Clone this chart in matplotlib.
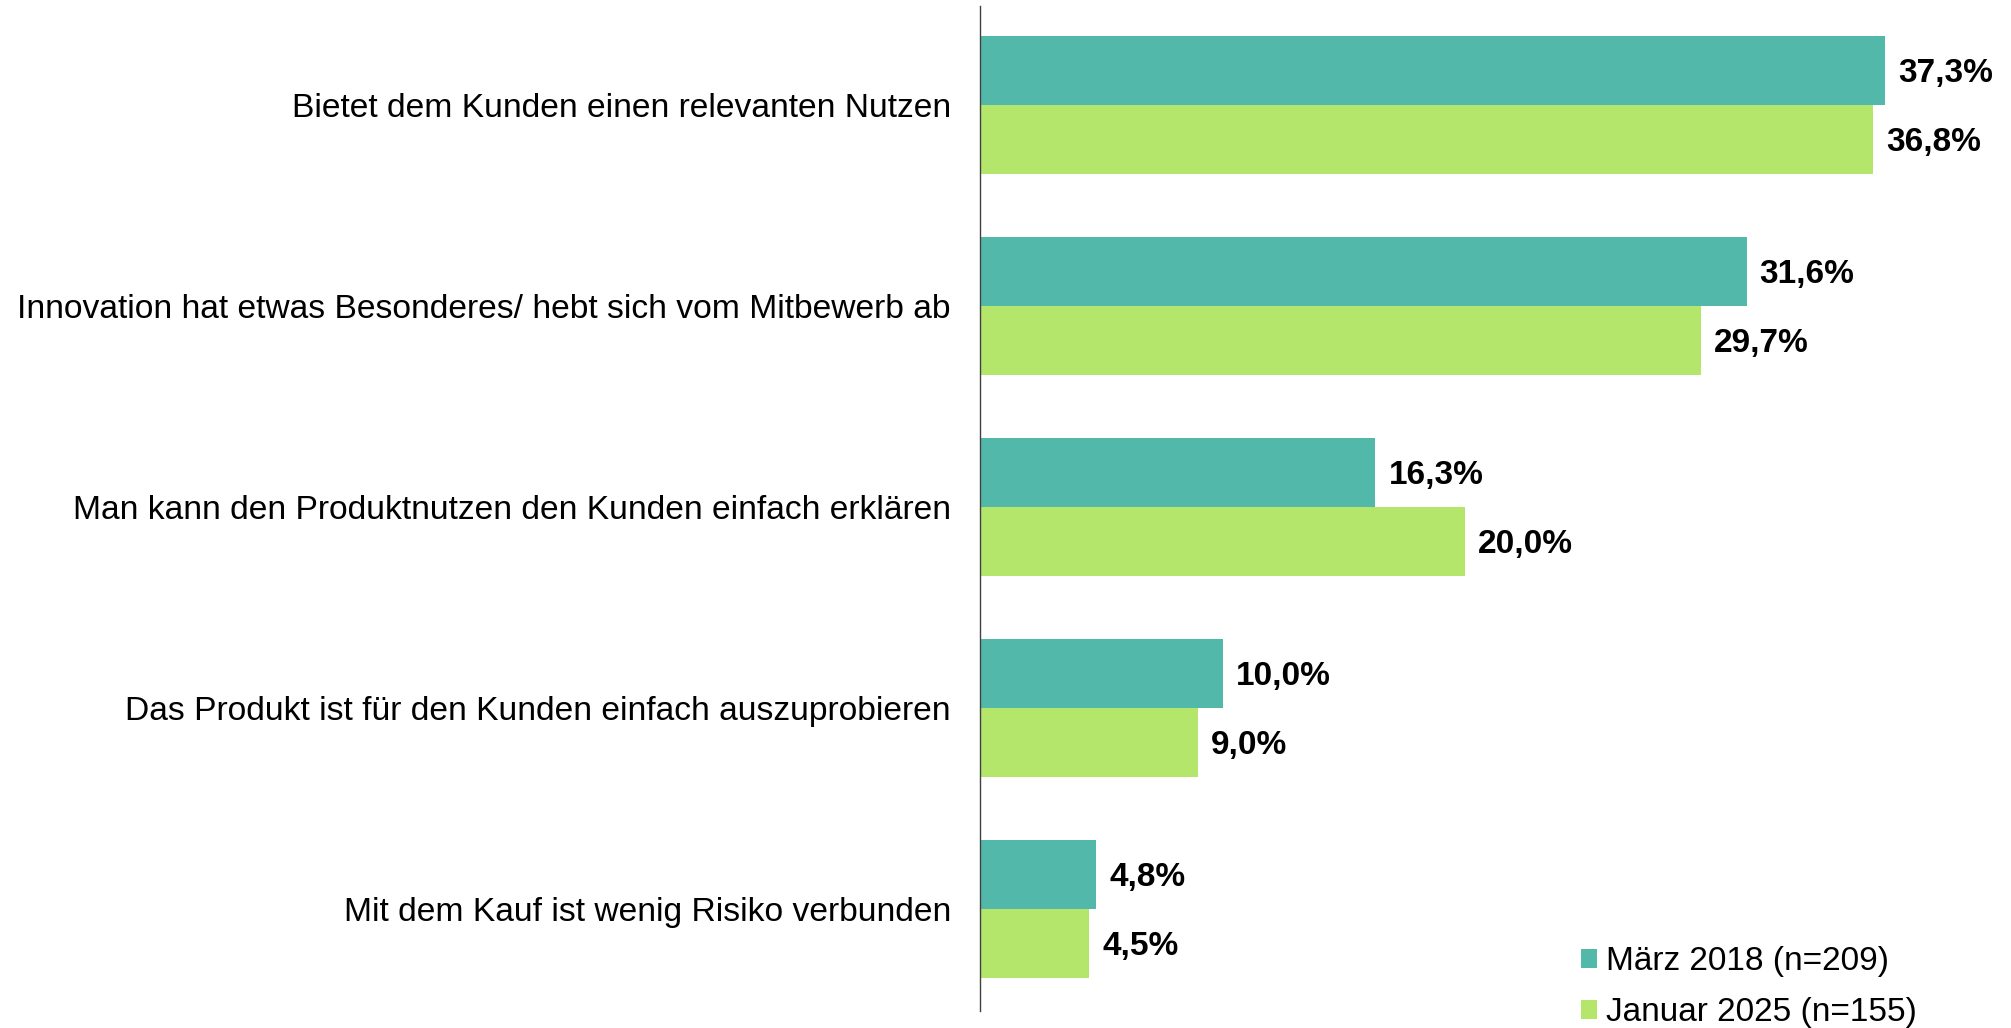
import numpy as np
import matplotlib
matplotlib.use('Agg')
from matplotlib import pyplot as plt

'''
Grouped horizontal bars, Maerz 2018 vs Januar 2025
'''

categories = [
    'Bietet dem Kunden einen relevanten Nutzen',
    'Innovation hat etwas Besonderes/ hebt sich vom Mitbewerb ab',
    'Man kann den Produktnutzen den Kunden einfach erklären',
    'Das Produkt ist für den Kunden einfach auszuprobieren',
    'Mit dem Kauf ist wenig Risiko verbunden',
]
maerz_2018 = [37.3, 31.6, 16.3, 10.0, 4.8]
januar_2025 = [36.8, 29.7, 20.0, 9.0, 4.5]
series_names = ['März 2018 (n=209)', 'Januar 2025 (n=155)']

col_teal = '#52b9aa'
col_green = '#b3e66a'

plt.rcParams['font.family'] = ['Liberation Sans', 'DejaVu Sans']

fig = plt.figure(figsize=(20.11, 10.28), dpi=100)
ax = fig.add_axes([0.4873, 0.0169, 0.5067, 0.9769])

y = np.arange(len(categories))
h = 0.345

b1 = ax.barh(y - h/2, maerz_2018, height=h, color=col_teal, label=series_names[0])
b2 = ax.barh(y + h/2, januar_2025, height=h, color=col_green, label=series_names[1])

def fmt(v):
    return ('%.1f%%' % v).replace('.', ',')

# value labels right of each bar
for bars, vals in ((b1, maerz_2018), (b2, januar_2025)):
    for b, v in zip(bars, vals):
        ax.annotate(fmt(v), (v, b.get_y() + b.get_height()/2),
                    xytext=(13, -3), textcoords='offset pixels',
                    ha='left', va='center', fontsize=24, fontweight='bold')

ax.set_xlim(0, 42)
ax.set_ylim(4.505, -0.49)
ax.set_yticks(y)
ax.set_yticklabels(categories, fontsize=24.2)
ax.tick_params(axis='y', length=0, pad=21)
ax.set_xticks([])
for s in ('top', 'right', 'bottom'):
    ax.spines[s].set_visible(False)
ax.spines['left'].set_linewidth(1.0)
ax.spines['left'].set_color('#404040')

fig.legend(loc='lower left', bbox_to_anchor=(0.786, 0.0), frameon=False,
           fontsize=24, handlelength=0.5, handleheight=0.5, handletextpad=0.25,
           labelspacing=0.6, borderpad=0, borderaxespad=0)

fig.savefig('out.png', dpi=100)
